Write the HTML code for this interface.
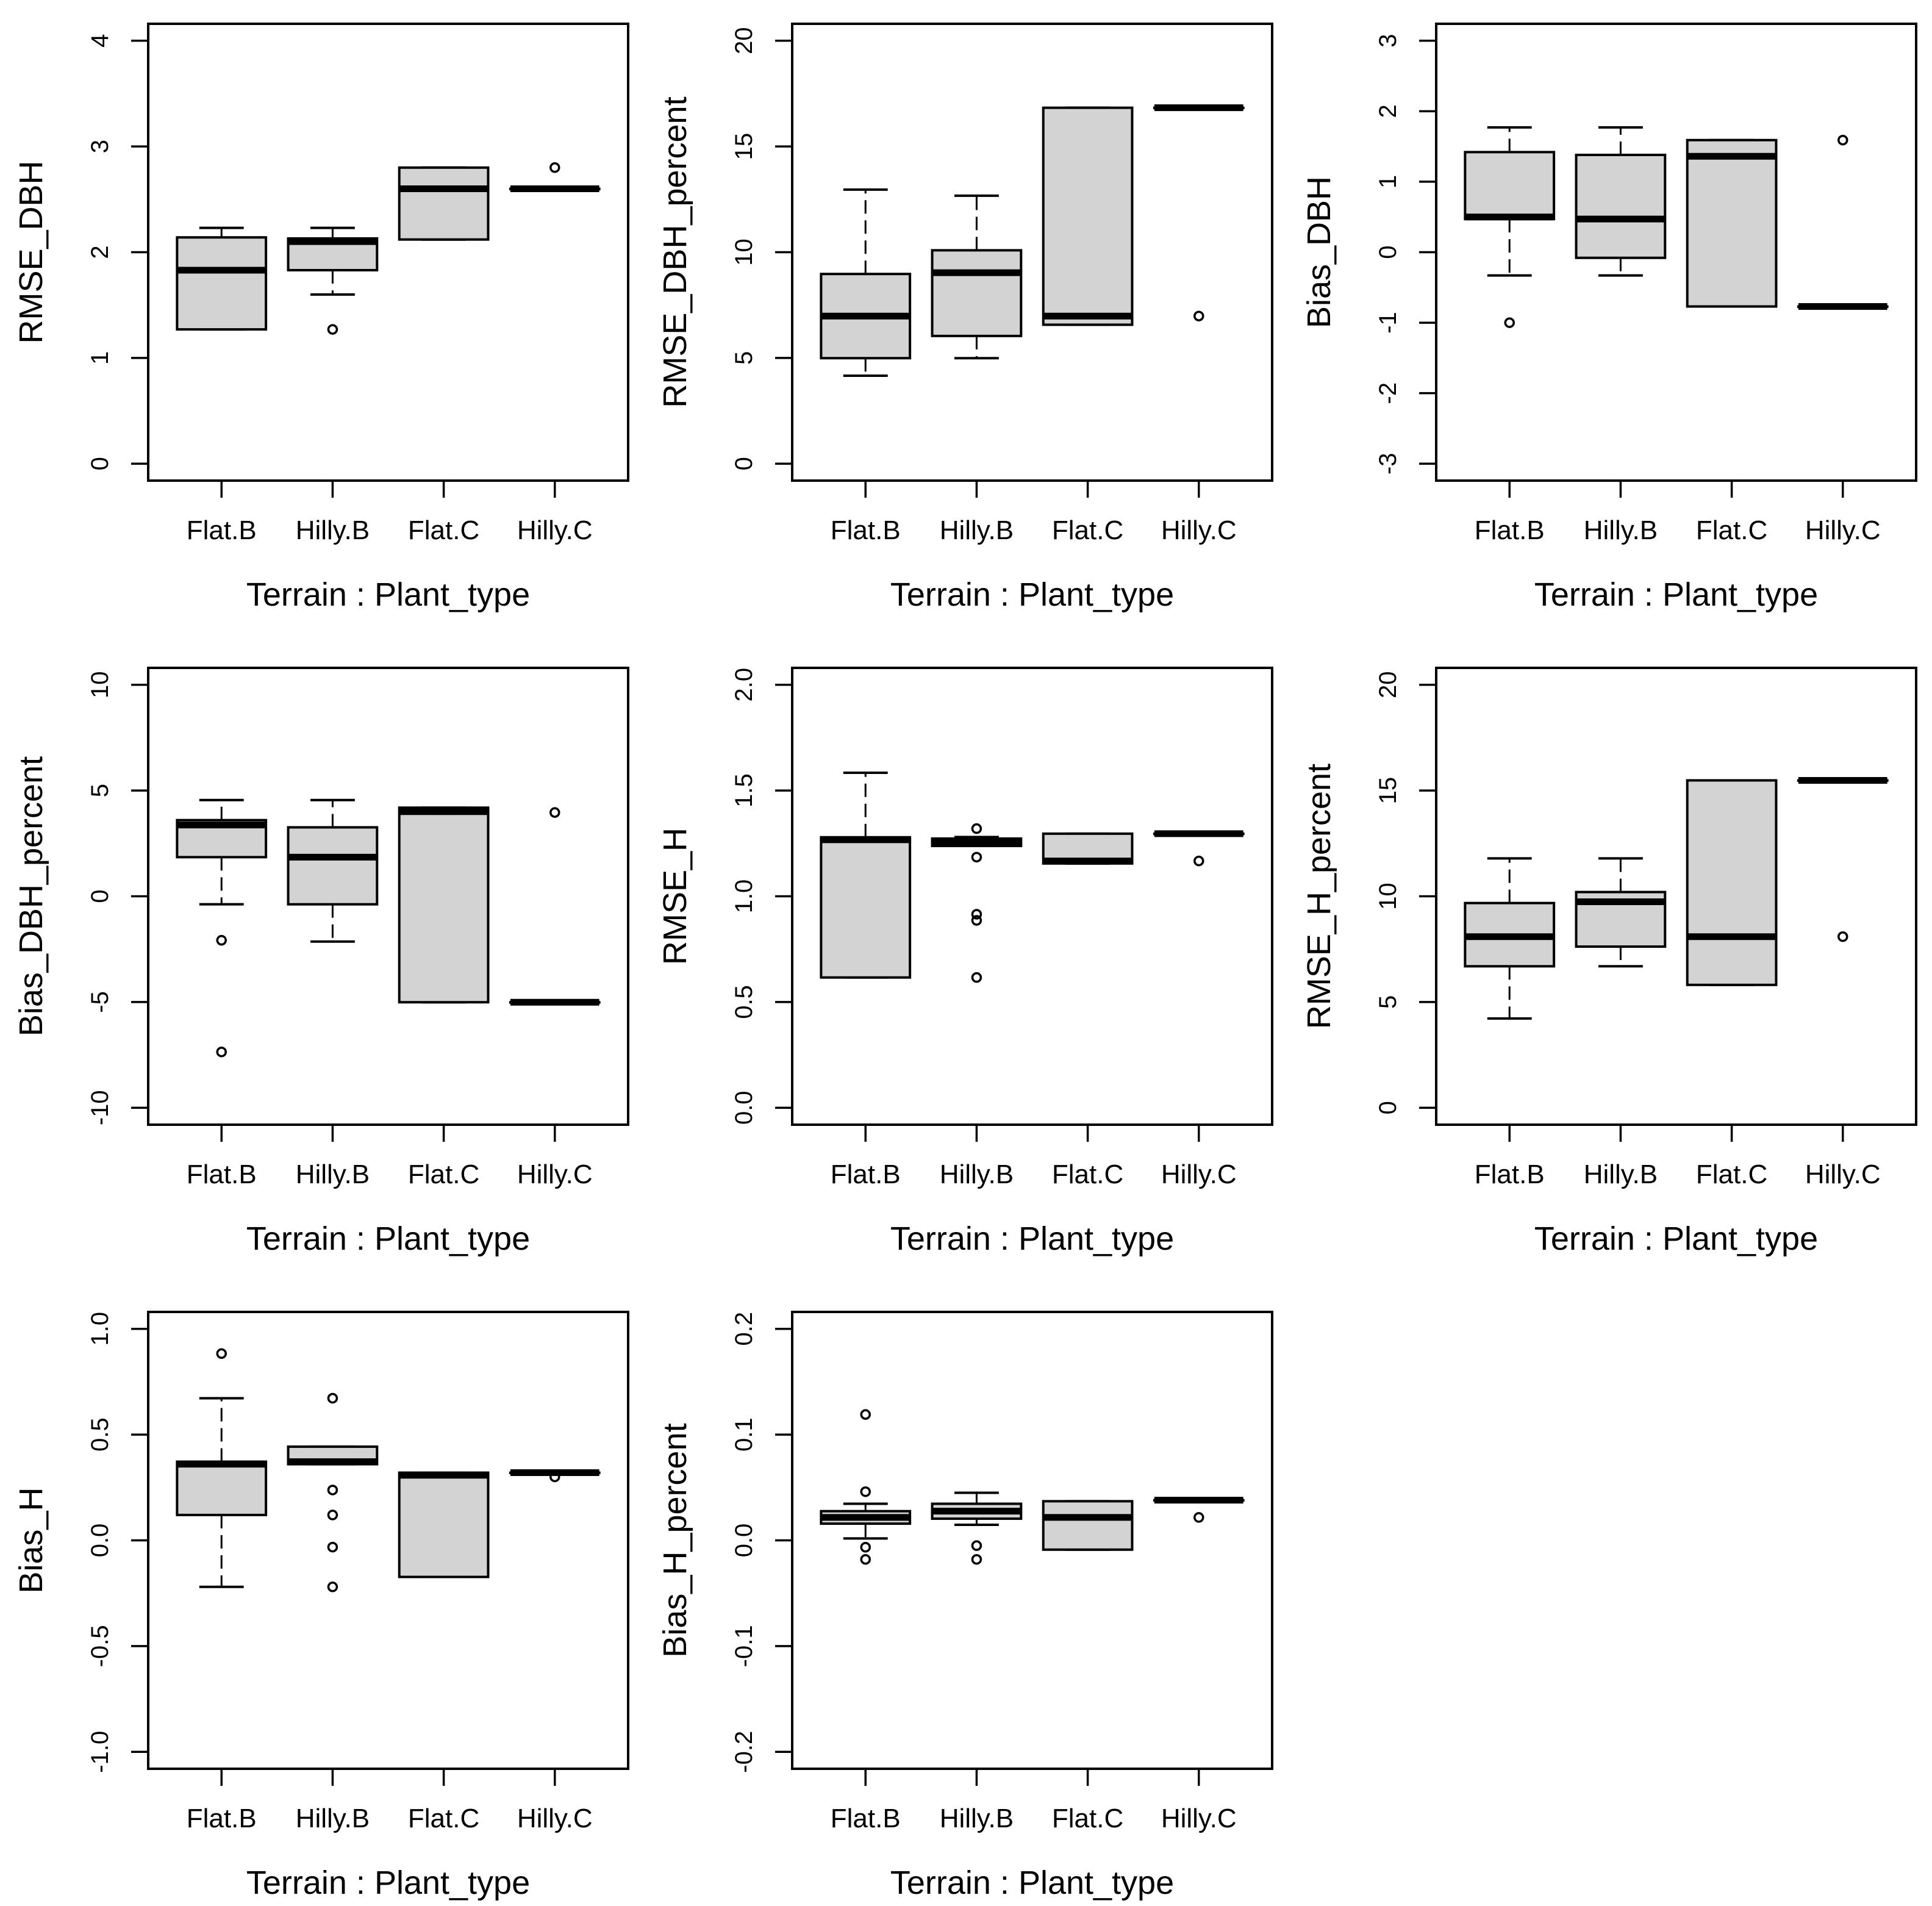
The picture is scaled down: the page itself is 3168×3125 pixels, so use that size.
<!DOCTYPE html>
<html><head><meta charset="utf-8"><style>
html,body{margin:0;padding:0;background:#fff;}
svg{display:block;font-family:"Liberation Sans",Arial,sans-serif;}
</style></head>
<body>
<svg id="chart" width="3168" height="3125" viewBox="0 0 3168 3125" xmlns="http://www.w3.org/2000/svg"></svg>
<script>
const categories = ["Flat.B","Hilly.B","Flat.C","Hilly.C"];
const panelTitles = ["RMSE_DBH","RMSE_DBH_percent","Bias_DBH","Bias_DBH_percent","RMSE_H","RMSE_H_percent","Bias_H","Bias_H_percent"];
const yTicks = [
  [0,1,2,3,4],[0,5,10,15,20],[-3,-2,-1,0,1,2,3],[-10,-5,0,5,10],
  [0,0.5,1,1.5,2],[0,5,10,15,20],[-1,-0.5,0,0.5,1],[-0.2,-0.1,0,0.1,0.2]
];
const yTickLabels = [
  ["0","1","2","3","4"],["0","5","10","15","20"],["-3","-2","-1","0","1","2","3"],["-10","-5","0","5","10"],
  ["0.0","0.5","1.0","1.5","2.0"],["0","5","10","15","20"],["-1.0","-0.5","0.0","0.5","1.0"],["-0.2","-0.1","0.0","0.1","0.2"]
];
// each box: [lowerWhisker, Q1, median, Q3, upperWhisker]
const boxStats = [
  [[1.27,1.27,1.83,2.14,2.23],[1.6,1.83,2.1,2.13,2.23],[2.12,2.12,2.6,2.8,2.8],[2.6,2.6,2.6,2.6,2.6]],
  [[4.16,4.99,6.98,8.97,12.96],[4.99,6.04,9.03,10.09,12.67],[6.57,6.57,6.98,16.83,16.83],[16.83,16.83,16.83,16.83,16.83]],
  [[-0.33,0.47,0.5,1.42,1.77],[-0.33,-0.08,0.47,1.38,1.77],[-0.77,-0.77,1.36,1.59,1.59],[-0.77,-0.77,-0.77,-0.77,-0.77]],
  [[-0.38,1.85,3.37,3.6,4.55],[-2.14,-0.38,1.85,3.26,4.55],[-5.01,-5.01,4.0,4.19,4.19],[-5.01,-5.01,-5.01,-5.01,-5.01]],
  [[0.616,0.616,1.267,1.279,1.584],[1.238,1.238,1.255,1.273,1.28],[1.155,1.155,1.167,1.296,1.296],[1.296,1.296,1.296,1.296,1.296]],
  [[4.22,6.69,8.09,9.68,11.79],[6.69,7.62,9.74,10.2,11.79],[5.81,5.81,8.09,15.48,15.48],[15.48,15.48,15.48,15.48,15.48]],
  [[-0.22,0.12,0.36,0.372,0.672],[0.36,0.36,0.372,0.443,0.443],[-0.173,-0.173,0.308,0.32,0.32],[0.32,0.32,0.32,0.32,0.32]],
  [[0.0018,0.0158,0.0217,0.0276,0.0346],[0.0147,0.0205,0.0276,0.0346,0.045],[-0.0088,-0.0088,0.0217,0.037,0.037],[0.038,0.038,0.038,0.038,0.038]]
];
const outliers = [
  [[],[1.27],[],[2.8]],
  [[],[],[],[6.98]],
  [[-1.0],[],[],[1.59]],
  [[-2.08,-7.36],[],[],[3.96]],
  [[],[1.32,1.185,0.915,0.886,0.616],[],[1.167]],
  [[],[],[],[8.09]],
  [[0.883],[0.672,0.238,0.12,-0.032,-0.22],[],[0.30]],
  [[0.119,0.046,-0.0065,-0.018],[-0.005,-0.018],[],[0.0217]]
];

const NS = "http://www.w3.org/2000/svg";
const svg = document.getElementById("chart");
function mk(tag, attrs, parent){
  const e = document.createElementNS(NS, tag);
  for (const k in attrs) e.setAttribute(k, attrs[k]);
  parent.appendChild(e);
  return e;
}
const PL=243, PR=1030, PT=39, PB=788, STEP=1056;
for (let p=0; p<8; p++){
  const ox = (p%3)*STEP, oy = Math.floor(p/3)*STEP;
  const g = mk("g", {transform:`translate(${ox},${oy})`}, svg);
  
  
  const ticks = yTicks[p];
  const ymin = ticks[0], ymax = ticks[ticks.length-1];
  const pad = (ymax-ymin)*0.04;
  const lo = ymin-pad, hi = ymax+pad;
  const yS = v => PB - (v-lo)/(hi-lo)*(PB-PT);
  const xlo = 0.5-0.16, xhi = 4.5+0.16;
  const xS = v => PL + (v-xlo)/(xhi-xlo)*(PR-PL);
  const frame = mk("rect", {x:PL,y:PT,width:PR-PL,height:PB-PT,fill:"none",stroke:"#000","stroke-width":4}, g);
  
  
  const yax = mk("g", {}, g);
  
  
  ticks.forEach((t,i)=>{
    const y = yS(t);
    mk("line",{x1:PL-28,x2:PL,y1:y,y2:y,stroke:"#000","stroke-width":3.5}, yax);
    const tx = mk("text",{x:0,y:0,transform:`translate(177,${y}) rotate(-90)`,"text-anchor":"middle","font-size":40,fill:"#000"}, yax);
    tx.textContent = yTickLabels[p][i];
    
    
  });
  const yt = mk("text",{transform:`translate(69,${(PT+PB)/2}) rotate(-90)`,"text-anchor":"middle","font-size":54,fill:"#000"}, g);
  yt.textContent = panelTitles[p];
  
  
  const xax = mk("g", {}, g);
  
  
  categories.forEach((c,i)=>{
    const x = xS(i+1);
    mk("line",{x1:x,x2:x,y1:PB,y2:PB+28,stroke:"#000","stroke-width":3.5}, xax);
    const tx = mk("text",{x:x,y:PB+96,"text-anchor":"middle","font-size":44,fill:"#000"}, xax);
    tx.textContent = c;
    
    
  });
  const xt = mk("text",{x:(PL+PR)/2,y:PB+205,"text-anchor":"middle","font-size":54,fill:"#000"}, g);
  xt.textContent = "Terrain : Plant_type";
  
  
  boxStats[p].forEach((s,i)=>{
    const cx = xS(i+1), hw = 0.4*(xS(1)-xS(0)), cw = hw/2;
    const bg = mk("g",{}, g);
    
    
    mk("line",{x1:cx,x2:cx,y1:yS(s[3]),y2:yS(s[4]),stroke:"#000","stroke-width":3,"stroke-dasharray":"22 11"}, bg);
    mk("line",{x1:cx,x2:cx,y1:yS(s[1]),y2:yS(s[0]),stroke:"#000","stroke-width":3,"stroke-dasharray":"22 11"}, bg);
    mk("line",{x1:cx-cw,x2:cx+cw,y1:yS(s[4]),y2:yS(s[4]),stroke:"#000","stroke-width":4}, bg);
    mk("line",{x1:cx-cw,x2:cx+cw,y1:yS(s[0]),y2:yS(s[0]),stroke:"#000","stroke-width":4}, bg);
    mk("rect",{x:cx-hw,y:yS(s[3]),width:2*hw,height:Math.max(0.5,yS(s[1])-yS(s[3])),fill:"#d3d3d3",stroke:"#000","stroke-width":4}, bg);
    mk("line",{x1:cx-hw,x2:cx+hw,y1:yS(s[2]),y2:yS(s[2]),stroke:"#000","stroke-width":11}, bg);
    outliers[p][i].forEach(v=>{
      const o = mk("circle",{cx:cx,cy:yS(v),r:7,fill:"none",stroke:"#000","stroke-width":3.5}, bg);
      
      
    });
  });
}
</script>
</body></html>
